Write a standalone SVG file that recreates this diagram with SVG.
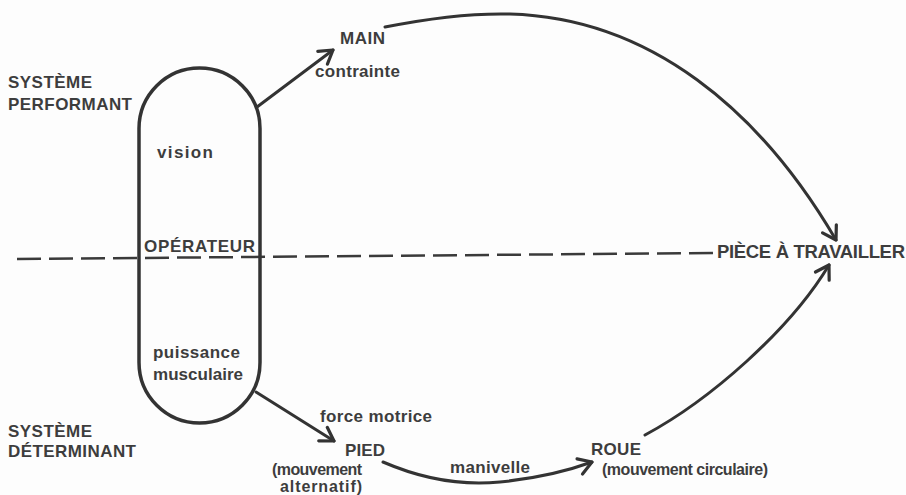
<svg xmlns="http://www.w3.org/2000/svg" width="906" height="495" viewBox="0 0 906 495">
<style>
text{font-family:"Liberation Sans",Arial,sans-serif;font-weight:bold;fill:#3d3d3d}
.t{font-size:17px}
.s{font-size:16px}
.c{fill:none;stroke:#333;stroke-width:3;stroke-linecap:round}
</style>
<defs>
<marker id="ah" viewBox="0 0 20 20" refX="16" refY="10" markerWidth="20" markerHeight="20" markerUnits="userSpaceOnUse" orient="auto">
<path d="M3,2 L16,10 L3,18" fill="none" stroke="#333" stroke-width="3.2" stroke-linecap="round" stroke-linejoin="round"/>
</marker>
</defs>
<rect width="906" height="495" fill="#fdfdfd"/>
<g id="labels">
<text class="t" x="8" y="88" textLength="84">SYSTÈME</text>
<text class="t" x="8" y="110" textLength="124">PERFORMANT</text>
<text class="t" x="8" y="437" textLength="84">SYSTÈME</text>
<text class="t" x="8" y="457" textLength="128">DÉTERMINANT</text>
</g>
<g id="divider">
<path d="M17,259 L713,253" fill="none" stroke="#3a3a3a" stroke-width="2.5" stroke-dasharray="24,8"/>
</g>
<g id="operateur">
<rect x="139" y="68" width="121" height="355" rx="60.5" ry="60.5" fill="none" stroke="#333" stroke-width="3.5"/>
<text class="t" x="157" y="158" textLength="56">vision</text>
<text class="t" x="144" y="252" textLength="111">OPÉRATEUR</text>
<text class="t" x="153" y="358" textLength="87">puissance</text>
<text class="t" x="153" y="380" textLength="90">musculaire</text>
</g>
<g id="main">
<text class="t" x="340" y="44" textLength="45">MAIN</text>
</g>
<g id="piece">
<text x="717" y="258" font-size="18.5" textLength="188">PIÈCE À TRAVAILLER</text>
</g>
<g id="pied">
<text class="t" x="345" y="456" textLength="40">PIED</text>
<text class="s" x="272" y="475" textLength="90">(mouvement</text>
<text class="s" x="280" y="492" textLength="82">alternatif)</text>
</g>
<g id="roue">
<text class="t" x="591" y="455" textLength="50">ROUE</text>
<text class="s" x="602" y="475" textLength="166">(mouvement circulaire)</text>
</g>
<g id="connectors">
<path class="c" d="M257,107 L333,50" marker-end="url(#ah)"/>
<path class="c" d="M385,27 C430,18 470,13 510,14 C650,18 760,110 836,240" marker-end="url(#ah)"/>
<path class="c" d="M256,392 L334,441" marker-end="url(#ah)"/>
<path class="c" d="M383,462 C420,478 460,486 500,482 C540,478 570,470 592,462" marker-end="url(#ah)"/>
<path class="c" d="M645,435 C710,400 790,330 829,265" marker-end="url(#ah)"/>
<text class="t" x="315" y="77" textLength="85">contrainte</text>
<text class="t" x="320" y="422" textLength="112">force motrice</text>
<text class="t" x="450" y="473" textLength="80">manivelle</text>
</g>
</svg>
